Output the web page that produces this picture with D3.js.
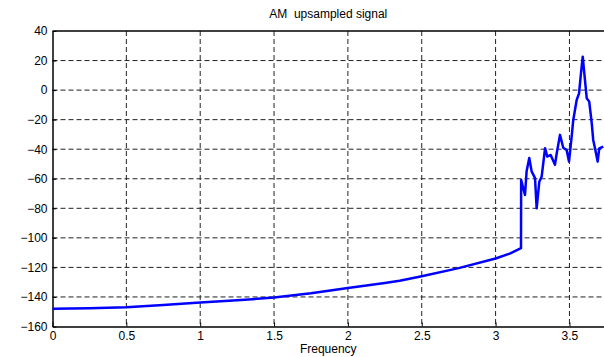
<!DOCTYPE html>
<html>
<head>
<meta charset="utf-8">
<script src="https://cdn.jsdelivr.net/npm/d3@7"></script>
<style>
  body { margin: 0; background: #fff; }
  text { font-family: "Liberation Sans", Arial, sans-serif; }
</style>
</head>
<body>
<div id="chart"></div>
<script>
// spectrum: frequency and magnitude (dB)
const freq = [0, 0.25, 0.5, 0.75, 1.0, 1.25, 1.5, 1.75, 2.0, 2.25, 2.35, 2.5, 2.75, 3.0, 3.1, 3.158, 3.172,
  3.173, 3.199, 3.210, 3.228, 3.244, 3.267, 3.278, 3.296, 3.312, 3.335, 3.350, 3.373, 3.402, 3.414,
  3.436, 3.458, 3.481, 3.497, 3.515, 3.526, 3.549, 3.565, 3.578, 3.590, 3.605, 3.617, 3.634, 3.651,
  3.661, 3.673, 3.691, 3.702, 3.729];
const mag = [-148, -147.7, -147, -145.5, -143.8, -142.3, -140.4, -137.5, -134, -130.5, -129, -126, -120.5, -114, -110.5, -107.6, -107,
  -60.8, -71, -55, -46, -55, -59.6, -80, -62, -58.5, -39.3, -45, -43.9, -50.6, -42.7,
  -30.3, -39, -40.5, -48.4, -31.5, -20.2, -6.7, -2.2, 11.4, 22.6, 6.9, -5.5, -7.8, -22.4,
  -33.7, -39.4, -48.4, -39.4, -38.2];
const xTicks = [0, 0.5, 1, 1.5, 2, 2.5, 3, 3.5];
const yTicks = [40, 20, 0, -20, -40, -60, -80, -100, -120, -140, -160];

const width = 604, height = 357;
const mLeft = 52.5, mRight = 604, mTop = 31, mBottom = 326.5;

const x = d3.scaleLinear().domain([0, 3.734]).range([mLeft, mRight]);
const y = d3.scaleLinear().domain([-160, 40]).range([mBottom, mTop]);

const svg = d3.select('#chart').append('svg')
  .attr('width', width)
  .attr('height', height);

// grid
svg.append('g').selectAll('line')
  .data(xTicks.filter(d => d > 0))
  .join('line')
  .attr('x1', d => x(d)).attr('x2', d => x(d))
  .attr('y1', mTop).attr('y2', mBottom)
  .attr('stroke', '#222').attr('stroke-width', 1)
  .attr('stroke-dasharray', '5,3');

svg.append('g').selectAll('line')
  .data(yTicks.filter(d => d > -160 && d < 40))
  .join('line')
  .attr('x1', mLeft).attr('x2', mRight)
  .attr('y1', d => y(d)).attr('y2', d => y(d))
  .attr('stroke', '#222').attr('stroke-width', 1)
  .attr('stroke-dasharray', '5,3');

// axes
const xAxis = svg.append('g')
  .attr('transform', `translate(0, ${mBottom})`)
  .call(d3.axisBottom(x).tickValues(xTicks).tickSizeInner(-4).tickSizeOuter(0).tickPadding(5).tickFormat(d3.format('')));
const yAxis = svg.append('g')
  .attr('transform', `translate(${mLeft}, 0)`)
  .call(d3.axisLeft(y).tickValues(yTicks).tickSizeInner(-4).tickSizeOuter(0).tickPadding(5));

[xAxis, yAxis].forEach(g => {
  g.select('.domain').attr('stroke', '#000').attr('stroke-width', 1.5);
  g.selectAll('.tick line').attr('stroke', '#000');
  g.selectAll('.tick text').attr('font-size', 12).attr('fill', '#000')
    .attr('font-family', '"Liberation Sans", Arial, sans-serif');
});

// top border
svg.append('line')
  .attr('x1', mLeft).attr('x2', mRight)
  .attr('y1', mTop).attr('y2', mTop)
  .attr('stroke', '#000').attr('stroke-width', 1.5);

// the signal
const pts = freq.map((f, i) => [f, mag[i]]);
svg.append('path')
  .datum(pts)
  .attr('fill', 'none')
  .attr('stroke', '#0000ff')
  .attr('stroke-width', 2.5)
  .attr('stroke-linejoin', 'round')
  .attr('d', d3.line().x(d => x(d[0])).y(d => y(d[1])));

// title and label
svg.append('text')
  .attr('x', (mLeft + mRight) / 2)
  .attr('y', 18)
  .attr('text-anchor', 'middle')
  .attr('font-size', 12)
  .attr('xml:space', 'preserve')
  .text('AM  upsampled signal');

svg.append('text')
  .attr('x', (mLeft + mRight) / 2)
  .attr('y', 353)
  .attr('text-anchor', 'middle')
  .attr('font-size', 12)
  .text('Frequency');
</script>
</body>
</html>
